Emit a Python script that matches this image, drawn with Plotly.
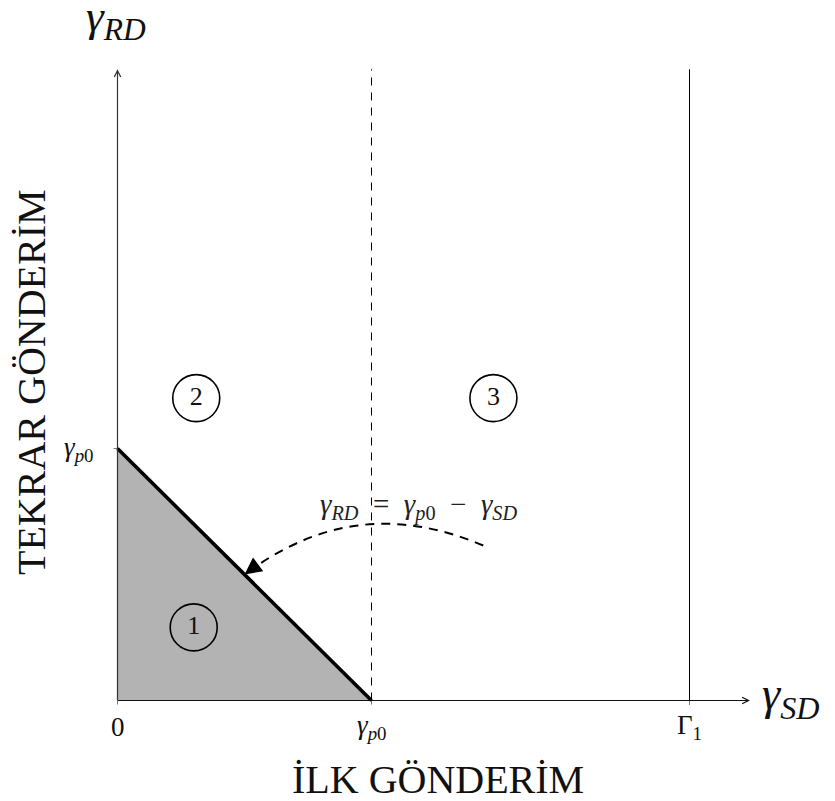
import math
import plotly.graph_objects as go

# ---- values -------------------------------------------------------------
gamma_p0 = 1.0        # threshold on both axes (normalised units)
Gamma_1 = 2.252       # upper bound on the SD axis
x_axis_end = 2.49     # length of the horizontal axis
y_axis_end = 2.505    # length of the vertical axis

region_names = ["1", "2", "3"]
region_x = [0.30, 0.31, 1.48]
region_y = [0.29, 1.20, 1.20]

x_tick_values = [0.0, gamma_p0, Gamma_1]
x_tick_labels = ["0", "<i>γ</i><sub><i>p</i>0</sub>", "Γ<sub>1</sub>"]
y_tick_values = [gamma_p0]
y_tick_labels = ["<i>γ</i><sub><i>p</i>0</sub>"]

# dashed bent arrow pointing to the middle of the boundary line
arrow_start = (1.44, 0.615)
arrow_end = (0.5 * gamma_p0, 0.5 * gamma_p0)

# ---- canvas -------------------------------------------------------------
W, H = 835, 801
PX_X, PX_Y = 254.0, 252.0          # pixels per unit
ORIGIN_PX = (117.5, 700.5)
x_range = [-ORIGIN_PX[0] / PX_X, (W - ORIGIN_PX[0]) / PX_X]
y_range = [-(H - ORIGIN_PX[1]) / PX_Y, ORIGIN_PX[1] / PX_Y]
dx = 1.0 / PX_X                     # one pixel in data units
dy = 1.0 / PX_Y


def px_x(p):
    return (p - ORIGIN_PX[0]) * dx


def px_y(p):
    return (ORIGIN_PX[1] - p) * dy


FONT = "Liberation Serif, DejaVu Serif, serif"
INK = "#111111"
SP = "\u2002"

fig = go.Figure()

# shaded region under the line gamma_RD = gamma_p0 - gamma_SD
fig.add_trace(go.Scatter(
    x=[0, 0, gamma_p0, 0], y=[0, gamma_p0, 0, 0],
    fill="toself", fillcolor="#b3b3b3", mode="none",
    hoverinfo="skip", showlegend=False))

shapes = []
# axes
shapes.append(dict(type="line", x0=0, y0=0, x1=x_axis_end - 3 * dx, y1=0,
                   line=dict(color=INK, width=1.1)))
shapes.append(dict(type="line", x0=0, y0=0, x1=0, y1=y_axis_end - 3 * dy,
                   line=dict(color="#333333", width=1.1)))
# vertical guides
shapes.append(dict(type="line", x0=gamma_p0, y0=0, x1=gamma_p0, y1=y_axis_end,
                   line=dict(color="black", width=1, dash="8px,7px")))
shapes.append(dict(type="line", x0=Gamma_1, y0=-4 * dy, x1=Gamma_1, y1=y_axis_end,
                   line=dict(color="black", width=1)))
# small ticks
for xv in x_tick_values:
    shapes.append(dict(type="line", x0=xv, y0=0, x1=xv, y1=-4 * dy,
                       line=dict(color="#777777", width=1)))
for yv in y_tick_values:
    shapes.append(dict(type="line", x0=-4 * dx, y0=yv, x1=0, y1=yv,
                       line=dict(color="#777777", width=1)))
# boundary line
shapes.append(dict(type="line", x0=0, y0=gamma_p0, x1=gamma_p0, y1=0,
                   line=dict(color="black", width=3.6)))

# bent dashed arrow (cubic, 30 degree bend like a TikZ "bend right")
(x0, y0), (x3, y3) = arrow_start, arrow_end
dist = math.hypot(x3 - x0, y3 - y0)
k = 0.3915 * dist
a_out = math.atan2(y3 - y0, x3 - x0) - math.radians(30)
a_in = math.atan2(y0 - y3, x0 - x3) + math.radians(30)
c1 = (x0 + k * math.cos(a_out), y0 + k * math.sin(a_out))
c2 = (x3 + k * math.cos(a_in), y3 + k * math.sin(a_in))
shapes.append(dict(
    type="path",
    path=f"M {x0},{y0} C {c1[0]},{c1[1]} {c2[0]},{c2[1]} {x3},{y3}",
    line=dict(color="black", width=2, dash="9px,7px")))

annotations = []
# axis arrowheads
annotations.append(dict(x=x_axis_end, y=0, ax=0, ay=0, xref="x", yref="y",
                        axref="x", ayref="y", showarrow=True, arrowhead=5,
                        arrowsize=1.15, arrowwidth=1.1, arrowcolor=INK,
                        standoff=0, text=""))
annotations.append(dict(x=0, y=y_axis_end, ax=0, ay=0, xref="x", yref="y",
                        axref="x", ayref="y", showarrow=True, arrowhead=5,
                        arrowsize=1.15, arrowwidth=1.1, arrowcolor="#333333",
                        standoff=0, text=""))
# head of the bent arrow
ux, uy = c2[0] - x3, c2[1] - y3
un = math.hypot(ux, uy)
back = 16 * dx
annotations.append(dict(x=x3, y=y3, ax=x3 + back * ux / un, ay=y3 + back * uy / un,
                        xref="x", yref="y", axref="x", ayref="y",
                        showarrow=True, arrowhead=2, arrowsize=1.7, arrowwidth=2,
                        arrowcolor="black", standoff=0, text=""))

# tick labels
for xv, lab in zip(x_tick_values, x_tick_labels):
    annotations.append(dict(x=xv, y=px_y(727), xref="x", yref="y", text=lab,
                            showarrow=False, font=dict(family=FONT, size=27, color=INK)))
for yv, lab in zip(y_tick_values, y_tick_labels):
    annotations.append(dict(x=px_x(96), y=yv, xref="x", yref="y", text=lab,
                            xanchor="right", showarrow=False,
                            font=dict(family=FONT, size=27, color=INK)))

# axis symbols
annotations.append(dict(x=px_x(116), y=px_y(19), xref="x", yref="y",
                        text="<i>γ</i><sub><i>RD</i></sub>", showarrow=False,
                        font=dict(family=FONT, size=45, color=INK)))
annotations.append(dict(x=px_x(760), y=px_y(697), xref="x", yref="y",
                        text="<i>γ</i><sub><i>SD</i></sub>", xanchor="left",
                        showarrow=False, font=dict(family=FONT, size=46, color=INK)))

# axis titles
annotations.append(dict(x=px_x(31), y=px_y(382), xref="x", yref="y",
                        text="TEKRAR GÖNDERİM", textangle=-90, showarrow=False,
                        font=dict(family=FONT, size=40, color=INK)))
annotations.append(dict(x=px_x(438), y=px_y(779), xref="x", yref="y",
                        text="İLK GÖNDERİM", showarrow=False,
                        font=dict(family=FONT, size=40, color=INK)))

# equation of the boundary
annotations.append(dict(x=px_x(419), y=px_y(506), xref="x", yref="y",
                        text="<i>γ</i><sub><i>RD</i></sub>" + SP + "=" + SP +
                             "<i>γ</i><sub><i>p</i>0</sub>" + SP + "−" + SP +
                             "<i>γ</i><sub><i>SD</i></sub>",
                        showarrow=False, font=dict(family=FONT, size=29, color="#222222")))

# numbered regions
fig.add_trace(go.Scatter(
    x=region_x, y=region_y, mode="markers+text", text=region_names,
    textposition="middle center",
    textfont=dict(family=FONT, size=26, color=INK),
    marker=dict(symbol="circle", size=47, color="rgba(0,0,0,0)",
                line=dict(color="black", width=1.6)),
    hoverinfo="skip", showlegend=False))

fig.update_layout(
    width=W, height=H, margin=dict(l=0, r=0, t=0, b=0),
    paper_bgcolor="white", plot_bgcolor="white",
    xaxis=dict(range=x_range, visible=False, fixedrange=True),
    yaxis=dict(range=y_range, visible=False, fixedrange=True),
    shapes=shapes, annotations=annotations, showlegend=False,
)

fig.write_html("out.html")
